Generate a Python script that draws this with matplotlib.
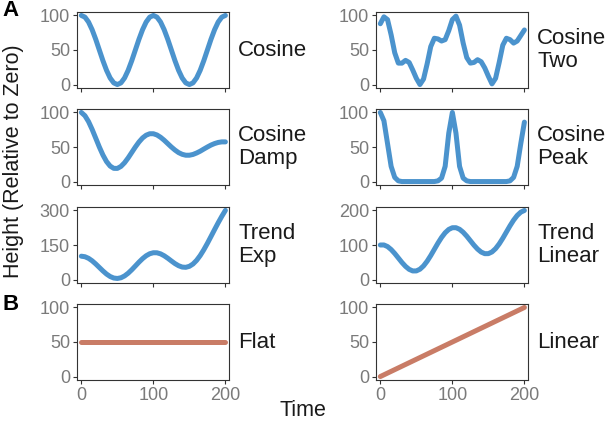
import matplotlib
matplotlib.use("Agg")
import matplotlib.pyplot as plt

plt.rcParams['font.family'] = ['Liberation Sans', 'DejaVu Sans']

# tiempo cada 5 unidades
time = list(range(0, 205, 5))

cosine = [100, 97.6, 90.5, 79.4, 65.5, 50, 34.5, 20.6, 9.5, 2.4, 0,
          2.4, 9.5, 20.6, 34.5, 50, 65.5, 79.4, 90.5, 97.6, 100,
          97.6, 90.5, 79.4, 65.5, 50, 34.5, 20.6, 9.5, 2.4, 0,
          2.4, 9.5, 20.6, 34.5, 50, 65.5, 79.4, 90.5, 97.6, 100]

cosine_two = [88, 98, 94, 72, 46, 31, 31, 35, 32, 21, 9,
              0, 8, 30, 55, 67, 66, 63, 65, 78, 94,
              99, 86, 60, 39, 31, 32, 36, 33, 24, 12,
              1, 9, 32, 57, 67, 65, 60, 63, 71, 79]

cosine_damp = [100, 95.3, 86.8, 75.5, 62.8, 50, 38.4, 28.9, 22.4, 19.1, 19.0,
               21.9, 27.2, 34.2, 42.1, 50, 57.2, 63.1, 67.1, 69.2, 69.2,
               67.4, 64.1, 59.8, 54.9, 50, 45.6, 41.9, 39.4, 38.1, 38.1,
               39.2, 41.3, 43.9, 47.0, 50, 52.8, 55.0, 56.6, 57.4, 57.4]

cosine_peak = [100, 88, 55, 22, 6, 1, 0, 0, 0, 0, 0,
               0, 0, 0, 0, 0, 1, 5, 22, 70, 100,
               70, 22, 5, 1, 0, 0, 0, 0, 0, 0,
               0, 0, 0, 0, 0, 1, 6, 22, 55, 86]

trend_exp = [101.4, 99.1, 92.2, 81.4, 67.7, 52.5, 37.4, 23.8, 13.2, 6.6, 4.7,
             7.7, 15.6, 27.5, 42.3, 58.8, 75.5, 90.7, 103.3, 112.1, 116.4,
             116.2, 111.6, 103.3, 92.6, 80.7, 69.3, 60.1, 54.2, 53.1, 57.4,
             67.4, 83.2, 104.1, 129.2, 157.2, 187.0, 217.1, 246.6, 274.5, 300.3]

trend_linear = [100, 100.1, 95.5, 86.9, 75.5, 62.5, 49.5, 38.1, 29.5, 24.9, 25,
                29.9, 39.5, 53.1, 69.5, 87.5, 105.5, 121.9, 135.5, 145.1, 150,
                150.1, 145.5, 136.9, 125.5, 112.5, 99.5, 88.1, 79.5, 74.9, 75,
                79.9, 89.5, 103.1, 119.5, 137.5, 155.5, 171.9, 185.5, 195.1, 200]

time_ends = [0, 200]
flat = [50, 50]
linear = [0, 100]

blue = '#4B93CD'
salmon = '#C97C66'

# (x, y, etiqueta, color, ticks y)
panels = [
    (time, cosine, 'Cosine', blue, [0, 50, 100]),
    (time, cosine_two, 'Cosine\nTwo', blue, [0, 50, 100]),
    (time, cosine_damp, 'Cosine\nDamp', blue, [0, 50, 100]),
    (time, cosine_peak, 'Cosine\nPeak', blue, [0, 50, 100]),
    (time, trend_exp, 'Trend\nExp', blue, [0, 150, 300]),
    (time, trend_linear, 'Trend\nLinear', blue, [0, 100, 200]),
    (time_ends, flat, 'Flat', salmon, [0, 50, 100]),
    (time_ends, linear, 'Linear', salmon, [0, 50, 100]),
]

W, H = 614, 422
fig = plt.figure(figsize=(W / 100, H / 100), dpi=100)

col_left = [77, 376]
col_w = 152
row_top = [12, 109, 207, 304]
row_h = 76

for i, (x, y, label, color, yt) in enumerate(panels):
    r, c = divmod(i, 2)
    ax = fig.add_axes([col_left[c] / W, 1 - (row_top[r] + row_h) / H,
                       col_w / W, row_h / H])
    ax.plot(x, y, color=color, lw=3.6, solid_capstyle='round',
            solid_joinstyle='round')
    top = yt[-1]
    ax.set_ylim(-0.05 * top, 1.05 * top)
    ax.set_xlim(-6, 205)
    ax.set_yticks(yt)
    ax.set_xticks([0, 100, 200])
    if r < 3:
        ax.set_xticklabels([])
    for s in ax.spines.values():
        s.set_color('#333333')
        s.set_linewidth(0.8)
    ax.tick_params(colors='#333333', labelcolor='#7a7a7a', labelsize=13,
                   length=3, width=0.8, pad=2)
    ax.text(1.06, 0.5, label, transform=ax.transAxes, ha='left',
            va='center', fontsize=16, color='#1a1a1a', linespacing=1.1)

fig.text(2 / W, 1 - 11 / H, 'A', fontsize=16, fontweight='bold',
         ha='left', va='center')
fig.text(2 / W, 1 - 305 / H, 'B', fontsize=16, fontweight='bold',
         ha='left', va='center')
fig.text(14 / W, 1 - 161 / H, 'Height (Relative to Zero)', rotation=90,
         fontsize=15.5, ha='center', va='center', color='#1a1a1a')
fig.text(303 / W, 1 - 411 / H, 'Time', fontsize=15.5, ha='center',
         va='center', color='#1a1a1a')

fig.savefig('out.png', dpi=100)
